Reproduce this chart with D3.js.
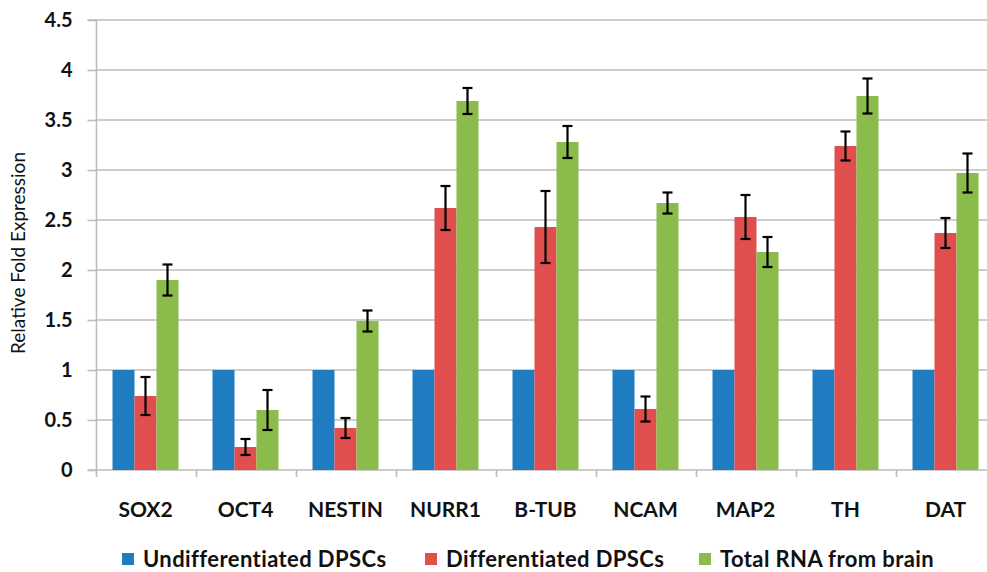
<!DOCTYPE html>
<html>
<head>
<meta charset="utf-8">
<script src="https://cdn.jsdelivr.net/npm/d3@7"></script>
<style>
  html, body { margin: 0; padding: 0; background: #fff; }
  svg { display: block; font-family: Lato, "Open Sans", sans-serif; }
</style>
</head>
<body>
<svg id="chart" width="987" height="572"></svg>
<script>
const categories = ["SOX2", "OCT4", "NESTIN", "NURR1", "B-TUB", "NCAM", "MAP2", "TH", "DAT"];
const seriesNames = ["Undifferentiated DPSCs", "Differentiated DPSCs", "Total RNA from brain"];
const undiffValues = [1, 1, 1, 1, 1, 1, 1, 1, 1];
const diffValues   = [0.74, 0.23, 0.42, 2.62, 2.43, 0.61, 2.53, 3.24, 2.37];
const brainValues  = [1.90, 0.60, 1.49, 3.69, 3.28, 2.67, 2.18, 3.74, 2.97];
const diffErrors   = [0.19, 0.08, 0.10, 0.22, 0.36, 0.125, 0.22, 0.145, 0.15];
const brainErrors  = [0.155, 0.20, 0.105, 0.13, 0.16, 0.105, 0.15, 0.175, 0.195];
const yTicks = [0, 0.5, 1, 1.5, 2, 2.5, 3, 3.5, 4, 4.5];
const colors = ["#1f7cc1", "#e04f4e", "#8bbb4a"];

const seriesValues = [undiffValues, diffValues, brainValues];
const seriesErrors = [null, diffErrors, brainErrors];

const svg = d3.select("#chart");
const x0 = 96.5, x1 = 996.5, yTop = 20, yBase = 470;

const x = d3.scaleBand().domain(categories).range([x0 - 1, x1 - 1]).paddingInner(0.34).paddingOuter(0.17);
const xs = d3.scaleBand().domain(seriesNames).range([0, x.bandwidth()]);
const y = d3.scaleLinear().domain([0, 4.5]).range([yBase, yTop]);
const color = d3.scaleOrdinal().domain(seriesNames).range(colors);

// gridlines
svg.append("g").selectAll("line").data(yTicks.filter(d => d > 0)).join("line")
  .attr("x1", x0).attr("x2", 987)
  .attr("y1", d => y(d)).attr("y2", d => y(d))
  .attr("stroke", "#bdbdbd").attr("stroke-width", 1.6);

// y axis
const yAxis = d3.axisLeft(y).tickValues(yTicks).tickSize(9).tickPadding(15).tickFormat(d => d3.format("")(d));
const gy = svg.append("g").attr("transform", `translate(${x0},0)`).call(yAxis);
gy.select(".domain").attr("stroke", "#bdbdbd").attr("stroke-width", 1.6).attr("d", `M-9,${yTop}H0V${yBase}H-9`);
gy.selectAll(".tick line").attr("stroke", "#bdbdbd").attr("stroke-width", 1.6);
gy.selectAll(".tick text").attr("font-size", 20).attr("font-weight", 700).attr("fill", "#111")
  .attr("font-family", "Lato, sans-serif");

// x axis baseline and ticks
svg.append("line").attr("x1", x0).attr("x2", 987).attr("y1", yBase).attr("y2", yBase)
  .attr("stroke", "#bdbdbd").attr("stroke-width", 1.6);
const step = x.step();
svg.append("g").selectAll("line").data(categories).join("line")
  .attr("x1", d => x(d) - step * x.paddingInner() / 2 + 1)
  .attr("x2", d => x(d) - step * x.paddingInner() / 2 + 1)
  .attr("y1", yBase).attr("y2", yBase + 7)
  .attr("stroke", "#bdbdbd").attr("stroke-width", 1.6);

// category labels
svg.append("g").selectAll("text").data(categories).join("text")
  .attr("x", d => x(d) + x.bandwidth() / 2)
  .attr("y", 517)
  .attr("text-anchor", "middle")
  .attr("font-size", 21).attr("font-weight", 700).attr("fill", "#111")
  .text(d => d);

// bars
const groups = svg.append("g").selectAll("g").data(seriesNames).join("g")
  .attr("fill", d => color(d));
groups.each(function(s, si) {
  d3.select(this).selectAll("rect").data(categories).join("rect")
    .attr("x", c => x(c) + xs(s))
    .attr("width", xs.bandwidth())
    .attr("y", (c, i) => y(seriesValues[si][i]))
    .attr("height", (c, i) => yBase - y(seriesValues[si][i]));
});

// error bars
const capW = 10;
seriesNames.forEach((s, si) => {
  if (!seriesErrors[si]) return;
  const g = svg.append("g").attr("stroke", "#000").attr("stroke-width", 2.2).attr("fill", "none");
  categories.forEach((c, i) => {
    const cx = x(c) + xs(s) + xs.bandwidth() / 2;
    const v = seriesValues[si][i], e = seriesErrors[si][i];
    g.append("line").attr("x1", cx).attr("x2", cx).attr("y1", y(v + e)).attr("y2", y(v - e));
    g.append("line").attr("x1", cx - capW / 2).attr("x2", cx + capW / 2).attr("y1", y(v + e)).attr("y2", y(v + e));
    g.append("line").attr("x1", cx - capW / 2).attr("x2", cx + capW / 2).attr("y1", y(v - e)).attr("y2", y(v - e));
  });
});

// y axis title
svg.append("text")
  .attr("transform", "translate(25,253) rotate(-90)")
  .attr("text-anchor", "middle")
  .attr("font-size", 19).attr("fill", "#111")
  .text("Relative Fold Expression");

// legend
const legendX = [122, 425, 699];
const lg = svg.append("g").selectAll("g").data(seriesNames).join("g")
  .attr("transform", (d, i) => `translate(${legendX[i]},553)`);
lg.append("rect").attr("width", 12).attr("height", 12).attr("fill", d => color(d));
lg.append("text").attr("x", 21).attr("y", 14)
  .attr("font-size", 22).attr("font-weight", 700).attr("fill", "#111")
  .attr("letter-spacing", 0.4)
  .text(d => d);
</script>
</body>
</html>
